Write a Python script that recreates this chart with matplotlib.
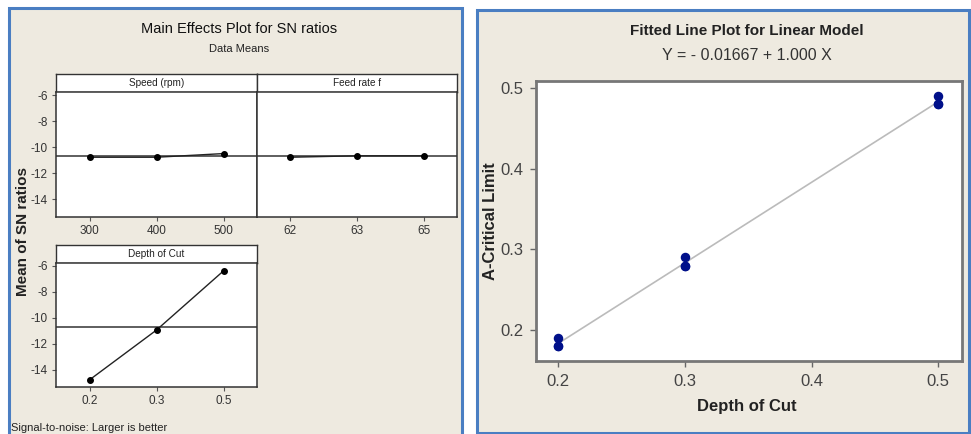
import numpy as np
import matplotlib
matplotlib.use("Agg")
import matplotlib.pyplot as plt
from matplotlib.patches import Rectangle

# main effects (SN ratios)
speed_levels = ["300", "400", "500"]
speed_sn = [-10.77, -10.77, -10.49]
feed_levels = ["62", "63", "65"]
feed_sn = [-10.77, -10.66, -10.66]
depth_levels = ["0.2", "0.3", "0.5"]
depth_sn = [-14.80, -10.95, -6.38]
sn_yticks = [-6, -8, -10, -12, -14]

# fitted line data
doc_x = [0.2, 0.2, 0.2, 0.3, 0.3, 0.3, 0.5, 0.5, 0.5]
acl_y = [0.18, 0.18, 0.19, 0.28, 0.28, 0.29, 0.48, 0.48, 0.49]
fit_b0 = -0.01667
fit_b1 = 1.000

W, H = 971, 434
BEIGE = "#EEEAE0"
BLUE = "#4A7EC2"
plt.rcParams["font.family"] = ["Liberation Sans", "DejaVu Sans"]

fig = plt.figure(figsize=(W / 100, H / 100), dpi=100, facecolor="white")


def box(x0, y0, x1, y1):
    # pixel box (top-left origin) -> figure fractions
    return [x0 / W, 1 - y1 / H, (x1 - x0) / W, (y1 - y0) / H]


def ftext(x, y, s, **kw):
    fig.text(x / W, 1 - y / H, s, **kw)


# panel backgrounds
for x0, y0, x1, y1 in [(9, 8, 462, 436), (477, 10, 969, 433)]:
    fig.patches.append(Rectangle((x0 / W, 1 - y1 / H), (x1 - x0) / W, (y1 - y0) / H,
                                 transform=fig.transFigure, facecolor=BEIGE,
                                 edgecolor=BLUE, linewidth=2.2, zorder=-5))

# ---------------- left: main effects plot ----------------
ftext(239, 29, "Main Effects Plot for SN ratios", fontsize=10.5, ha="center", va="center", color="#111")
ftext(239, 49, "Data Means", fontsize=8, ha="center", va="center", color="#222")
ftext(23, 232, "Mean of SN ratios", fontsize=11, fontweight="bold", rotation=90,
      ha="center", va="center", color="#222")
ftext(11, 428, "Signal-to-noise: Larger is better", fontsize=8, ha="left", va="center", color="#222")

grand_mean = np.mean(depth_sn)
YLIM = (-15.35, -5.77)


def effect_panel(x0, x1, top, strip_bot, bot, labels, vals, title, show_y):
    st = fig.add_axes(box(x0, top, x1, strip_bot))
    st.set_facecolor("white")
    st.set_xticks([])
    st.set_yticks([])
    for s in st.spines.values():
        s.set_color("#333")
        s.set_linewidth(1.0)
    st.text(0.5, 0.5, title, ha="center", va="center", fontsize=7.2, color="#222",
            transform=st.transAxes)
    ax = fig.add_axes(box(x0, strip_bot, x1, bot))
    ax.set_facecolor("white")
    xs = np.arange(len(labels))
    ax.axhline(grand_mean, color="#333", linewidth=1.1)
    ax.plot(xs, vals, color="#222", linewidth=1.0, marker="o", markersize=4,
            markerfacecolor="black", markeredgecolor="black")
    ax.set_xlim(-0.5, len(labels) - 0.5)
    ax.set_ylim(*YLIM)
    ax.set_xticks(xs)
    ax.set_xticklabels(labels)
    ax.set_yticks(sn_yticks)
    if show_y:
        ax.set_yticklabels([str(v) for v in sn_yticks])
    else:
        ax.tick_params(axis="y", left=False, labelleft=False)
    ax.tick_params(direction="out", length=3, width=0.8, color="#555",
                   labelsize=8.5, labelcolor="#333", pad=3)
    for s in ax.spines.values():
        s.set_color("#333")
        s.set_linewidth(1.1)
    return ax


effect_panel(56, 257, 74, 92, 217, speed_levels, speed_sn, "Speed (rpm)", True)
effect_panel(257, 457, 74, 92, 217, feed_levels, feed_sn, "Feed rate f", False)
effect_panel(56, 257, 245, 263, 387, depth_levels, depth_sn, "Depth of Cut", True)

# ---------------- right: fitted line plot ----------------
ftext(747, 31, "Fitted Line Plot for Linear Model", fontsize=11, fontweight="bold",
      ha="center", va="center", color="#222")
ftext(747, 55, "Y = - 0.01667 + 1.000 X", fontsize=11.5, ha="center", va="center", color="#333")

ax2 = fig.add_axes(box(536, 81, 962, 361))
ax2.set_facecolor("white")
xx = np.array([min(doc_x), max(doc_x)])
ax2.plot(xx, fit_b0 + fit_b1 * xx, color="#BBBBBB", linewidth=1.2, zorder=2)
ax2.scatter(doc_x, acl_y, s=34, color="#00108A", edgecolors="#00108A", zorder=3)
ax2.set_xlim(0.1824, 0.5187)
ax2.set_ylim(0.1615, 0.509)
ax2.set_xticks([0.2, 0.3, 0.4, 0.5])
ax2.set_yticks([0.2, 0.3, 0.4, 0.5])
ax2.tick_params(direction="out", length=4, width=1, color="#666",
                labelsize=12, labelcolor="#444", pad=5)
for s in ax2.spines.values():
    s.set_color("#777")
    s.set_linewidth(2)
ax2.set_xlabel("Depth of Cut", fontsize=12, fontweight="bold", color="#222")
ax2.set_ylabel("A-Critical Limit", fontsize=12, fontweight="bold", color="#222")
ax2.xaxis.set_label_coords((747 - 536) / 426, -(407 - 361) / 280)
ax2.yaxis.set_label_coords(-(536 - 490) / 426, 0.5)
ax2.xaxis.label.set_va("center")
ax2.yaxis.label.set_va("center")

fig.savefig("out.png", dpi=100, facecolor="white")
